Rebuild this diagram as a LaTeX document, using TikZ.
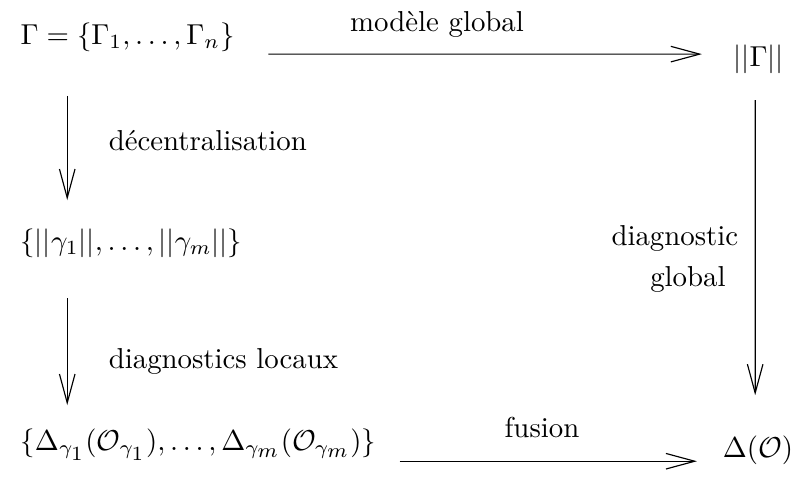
\documentclass[tikz,border=0pt]{standalone}
\usepackage{amsmath}
\usetikzlibrary{arrows.meta}

\begin{document}
\begin{tikzpicture}[x=1.0cm, y=1.0cm, >={Straight Barb[length=10pt,width=5.4pt]},
    fleche/.style={->, line width=0.4pt},
    etat/.style={anchor=base west, inner sep=0pt},
    etiquette/.style={inner sep=0pt}]
  \useasboundingbox (0,0) rectangle (9.72,5.82);

  % 1. Etats du diagramme
  \node[etat] (gam)    at (0.244,5.28)  {$\Gamma=\{\Gamma_1,\ldots,\Gamma_n\}$};
  \node[etat] (normG)  at (8.94,5.01)   {$||\Gamma||$};
  \node[etat] (locaux) at (0.244,2.77)  {$\{||\gamma_1||,\ldots,||\gamma_m||\}$};
  \node[etat] (diagl)  at (0.244,0.33)  {$\{\Delta_{\gamma_{\scriptstyle 1}}(\mathcal{O}_{\gamma_{\scriptstyle 1}}),\ldots,\Delta_{\gamma_{\scriptstyle m}}(\mathcal{O}_{\gamma_{\scriptstyle m}})\}$};
  \node[etat] (delta)  at (8.81,0.244)  {$\Delta(\mathcal{O})$};

  % 2. Fleches
  \draw[fleche] ([shift={(3.03,-0.12)}]gam.base west) -- ([shift={(-0.38,0.15)}]normG.base west);
  \draw[fleche] ([shift={(0.576,-0.63)}]gam.base west) -- ([shift={(0.576,0.61)}]locaux.base west);
  \draw[fleche] ([shift={(0.576,-0.59)}]locaux.base west) -- ([shift={(0.576,0.55)}]diagl.base west);
  \draw[fleche] ([shift={(0.27,-0.41)}]normG.base west) -- ([shift={(0.40,0.756)}]delta.base west);
  \draw[fleche] ([shift={(0.28,-0.135)}]diagl.base east) -- ([shift={(-0.31,-0.049)}]delta.base west);

  % 3. Etiquettes des fleches
  \node[etiquette, anchor=base]      (mglob)  at (5.33,5.44) {mod\`ele global};
  \node[etiquette, anchor=base west] (decent) at (1.32,3.98) {d\'ecentralisation};
  \node[etiquette, anchor=base west] (dloc)   at (1.32,1.33) {diagnostics locaux};
  \node[etiquette, anchor=base]      (fus)    at (6.61,0.49) {fusion};
  \node[etiquette, anchor=base]      (dglob)  at (8.23,2.83) {diagnostic};
  \node[etiquette, anchor=base]      (glob)   at (8.39,2.32) {global};
\end{tikzpicture}
\end{document}
